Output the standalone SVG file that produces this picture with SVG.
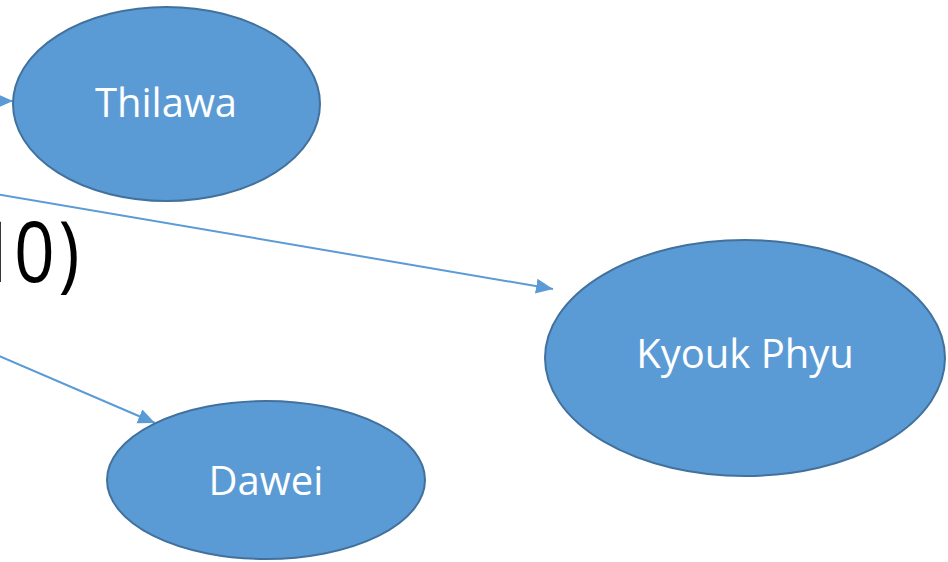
<svg xmlns="http://www.w3.org/2000/svg" width="948" height="562" viewBox="0 0 948 562">
<defs>
<marker id="ah" markerUnits="userSpaceOnUse" markerWidth="18" markerHeight="16" refX="17" refY="7.5" orient="auto">
<path d="M0,0 L17,7.5 L0,15 Z" fill="#5B9BD5"/>
</marker>
<style>
.node{fill:#5B9BD5;stroke:#41719C;stroke-width:2}
.lbl{font-family:"Open Sans","Liberation Sans",sans-serif;font-size:40px;fill:#FFFFFF;text-anchor:middle}
.edge{stroke:#5B9BD5;stroke-width:2;fill:none;marker-end:url(#ah)}
</style>
</defs>
<rect width="948" height="562" fill="#FFFFFF"/>
<text y="282" font-family="Open Sans, Liberation Sans, sans-serif" font-size="84" fill="#000000" transform="scale(0.85,1)"><tspan x="-28.5">1</tspan><tspan x="16.5">0</tspan><tspan x="68.8">)</tspan></text>
<g id="connectors">
<line class="edge" x1="-40" y1="101" x2="13" y2="101"/>
<line class="edge" x1="-10" y1="193" x2="553" y2="289"/>
<line class="edge" x1="-10" y1="352" x2="155" y2="423"/>
</g>
<g id="thilawa">
<ellipse class="node" cx="166.5" cy="104" rx="153.5" ry="97"/>
<text class="lbl" x="166" y="117">Thilawa</text>
</g>
<g id="kyoukphyu">
<ellipse class="node" cx="745" cy="358" rx="200" ry="118"/>
<text class="lbl" x="745" y="368">Kyouk Phyu</text>
</g>
<g id="dawei">
<ellipse class="node" cx="266" cy="480" rx="159" ry="79"/>
<text class="lbl" x="266" y="495">Dawei</text>
</g>
</svg>
